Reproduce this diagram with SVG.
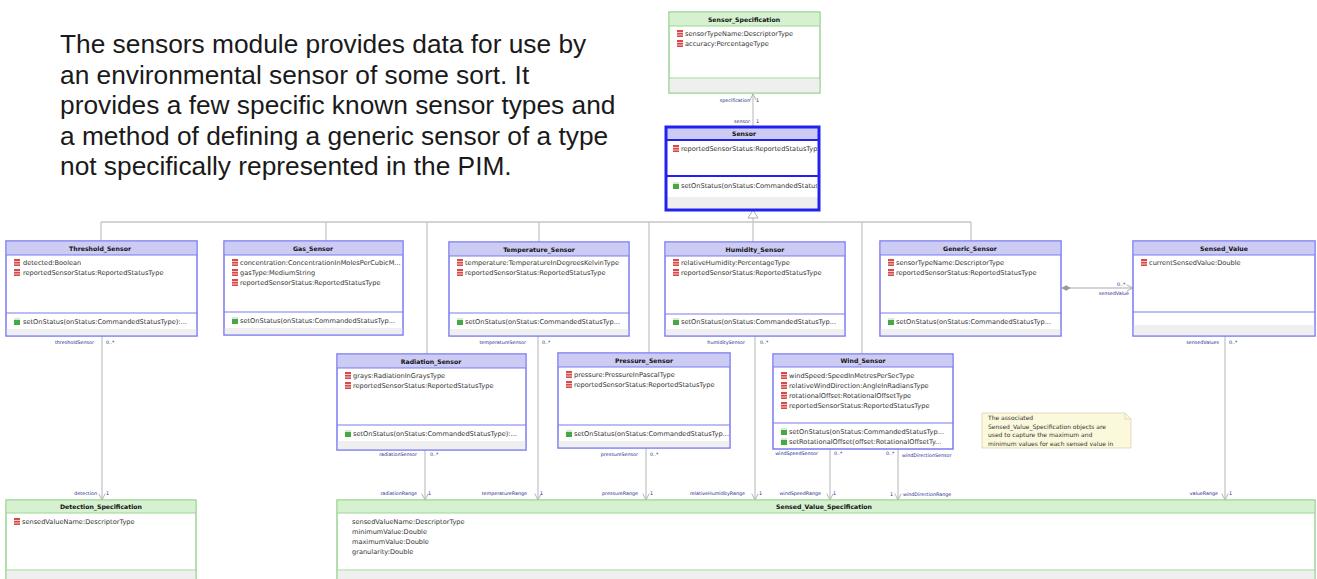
<svg xmlns="http://www.w3.org/2000/svg" width="1317" height="579" viewBox="0 0 1317 579">
<style>
  .intro{font-family:"Liberation Sans",Arial,sans-serif;font-size:26.3px;fill:#1a1a1a}
  .cls{fill:#fff;stroke:#7b7bf2;stroke-width:1.5}
  .clsh{fill:#cbcbf3}
  .spec{fill:#fff;stroke:#9bd594;stroke-width:1.5}
  .spech{fill:#d6f1d0}
  .grey{fill:#efefef}
  .sep{stroke:#7b7bf2;stroke-width:1.2}
  .seps{stroke:#9bd594;stroke-width:1.2}
  .ttl{font-family:"DejaVu Sans",Verdana,sans-serif;font-size:6.2px;font-weight:bold;fill:#111;text-anchor:middle}
  .mem{font-family:"DejaVu Sans",Verdana,sans-serif;font-size:6.6px;fill:#333}
  .role{font-family:"DejaVu Sans",Verdana,sans-serif;font-size:4.8px;fill:#1e2a8c}
  .end{text-anchor:end}
  .ln{stroke:#c6c6c6;stroke-width:1.3;fill:none}
  .note{fill:#fbf8dc;stroke:#d8d4b0;stroke-width:0.8}
  .notet{font-family:"DejaVu Sans",Verdana,sans-serif;font-size:6px;fill:#333}
</style>
<defs>
  <g id="ia"><rect width="6" height="7" fill="#d84a4a"/><rect y="2" width="6" height="1" fill="#f4c4c4"/><rect y="4.5" width="6" height="1" fill="#f4c4c4"/></g>
  <g id="io"><rect width="6" height="7" fill="#46a846"/><rect width="6" height="2" fill="#d3ecd3"/></g>
  <marker id="open" viewBox="0 0 10 10" refX="9" refY="5" markerWidth="8" markerHeight="8" orient="auto" markerUnits="userSpaceOnUse">
    <path d="M1,1 L9,5 L1,9" fill="none" stroke="#b0b0b0" stroke-width="1.2"/>
  </marker>
  <marker id="dia" viewBox="0 0 12 8" refX="1" refY="4" markerWidth="10" markerHeight="7" orient="auto" markerUnits="userSpaceOnUse">
    <path d="M1,4 L6,1 L11,4 L6,7 Z" fill="#9a9a9a" stroke="#9a9a9a" stroke-width="0.6"/>
  </marker>
  <clipPath id="sensorClip"><rect x="667" y="128" width="150" height="81"/></clipPath>
</defs>

<!-- introductory paragraph -->
<g id="intro">
  <text class="intro" x="60" y="53">The sensors module provides data for use by</text>
  <text class="intro" x="60" y="83.5">an environmental sensor of some sort. It</text>
  <text class="intro" x="60" y="114">provides a few specific known sensor types and</text>
  <text class="intro" x="60" y="144.5">a method of defining a generic sensor of a type</text>
  <text class="intro" x="60" y="175">not specifically represented in the PIM.</text>
</g>

<!-- connectors -->
<g id="connectors">
  <!-- generalisation tree -->
  <path class="ln" d="M753,218 V242"/>
  <path class="ln" d="M101,222 H971"/>
  <path class="ln" d="M101,222 V241 M326,222 V241 M427,222 V354 M539,222 V242 M649,222 V353 M862,222 V354 M971,222 V241"/>
  <path d="M753,210 L748,218 L758,218 Z" fill="#fff" stroke="#b0b0b0" stroke-width="1"/>
  <!-- Sensor to Sensor_Specification -->
  <path class="ln" d="M753,127 V94" marker-end="url(#open)"/>
  <!-- associations to specifications -->
  <path class="ln" d="M102,336 V500" marker-end="url(#open)"/>
  <path class="ln" d="M425,450 V500" marker-end="url(#open)"/>
  <path class="ln" d="M538,336 V500" marker-end="url(#open)"/>
  <path class="ln" d="M646,448 V500" marker-end="url(#open)"/>
  <path class="ln" d="M755,336 V500" marker-end="url(#open)"/>
  <path class="ln" d="M830,449 V500" marker-end="url(#open)"/>
  <path class="ln" d="M898,449 V500" marker-end="url(#open)"/>
  <path class="ln" d="M1225,336 V500" marker-end="url(#open)"/>
  <!-- Generic_Sensor aggregates Sensed_Value -->
  <path class="ln" d="M1062,288 H1133" marker-start="url(#dia)" marker-end="url(#open)"/>

  <!-- role names and multiplicities -->
  <text class="role end" x="750" y="102">specification</text><text class="role" x="756" y="102">1</text>
  <text class="role end" x="750" y="123">sensor</text><text class="role" x="756" y="123">1</text>

  <text class="role end" x="94" y="344">thresholdSensor</text><text class="role" x="106" y="344">0..*</text>
  <text class="role end" x="526" y="344">temperatureSensor</text><text class="role" x="542" y="344">0..*</text>
  <text class="role end" x="745" y="344">humiditySensor</text><text class="role" x="760" y="344">0..*</text>
  <text class="role end" x="1219" y="344">sensedValues</text><text class="role" x="1229" y="344">0..*</text>

  <text class="role" x="1117" y="286">0..*</text>
  <text class="role end" x="1129" y="295">sensedValue</text>

  <text class="role end" x="417" y="456">radiationSensor</text><text class="role" x="430" y="456">0..*</text>
  <text class="role end" x="638" y="456">pressureSensor</text><text class="role" x="650" y="456">0..*</text>
  <text class="role end" x="818" y="455">windSpeedSensor</text><text class="role" x="834" y="455">0..*</text>
  <text class="role" x="886" y="455">0..*</text><text class="role" x="902" y="457">windDirectionSensor</text>

  <text class="role end" x="97" y="495">detection</text><text class="role" x="106" y="495">1</text>
  <text class="role end" x="417" y="495">radiationRange</text><text class="role" x="428" y="495">1</text>
  <text class="role end" x="527" y="495">temperatureRange</text><text class="role" x="540" y="495">1</text>
  <text class="role end" x="638" y="495">pressureRange</text><text class="role" x="650" y="495">1</text>
  <text class="role end" x="745" y="495">relativeHumidityRange</text><text class="role" x="759" y="495">1</text>
  <text class="role end" x="821" y="495">windSpeedRange</text><text class="role" x="833" y="495">1</text>
  <text class="role end" x="893" y="496">1</text><text class="role" x="903" y="496">windDirectionRange</text>
  <text class="role end" x="1218" y="495">valueRange</text><text class="role" x="1229" y="495">1</text>
</g>

<!-- Sensor_Specification -->
<g id="sensor-specification">
  <rect class="spec" x="669" y="12" width="151" height="81"/>
  <rect class="spech" x="669.8" y="12.8" width="149.4" height="13.2"/>
  <line class="seps" x1="669" y1="26" x2="820" y2="26"/>
  <rect class="grey" x="669.8" y="79" width="149.4" height="13.2"/>
  <line class="seps" x1="669" y1="78" x2="820" y2="78"/>
  <text class="ttl" x="744" y="22">Sensor_Specification</text>
  <use href="#ia" x="677" y="30"/><text class="mem" x="685" y="36">sensorTypeName:DescriptorType</text>
  <use href="#ia" x="677" y="40"/><text class="mem" x="685" y="46">accuracy:PercentageType</text>
</g>

<!-- Sensor (abstract parent, highlighted) -->
<g id="sensor">
  <rect x="666" y="127" width="153" height="83" fill="#fff"/>
  <rect class="clsh" x="666" y="127" width="153" height="13"/>
  <rect class="grey" x="666" y="197" width="153" height="12"/>
  <line x1="666" y1="140" x2="819" y2="140" stroke="#2222ee" stroke-width="2"/>
  <line x1="666" y1="176" x2="819" y2="176" stroke="#2222ee" stroke-width="2"/>
  <text class="ttl" x="744" y="136">Sensor</text>
  <g clip-path="url(#sensorClip)">
    <use href="#ia" x="673" y="145"/><text class="mem" x="681" y="151">reportedSensorStatus:ReportedStatusType</text>
    <use href="#io" x="673" y="182"/><text class="mem" x="681" y="188">setOnStatus(onStatus:CommandedStatusTyp...</text>
  </g>
  <rect x="666" y="127" width="153" height="83" fill="none" stroke="#2222ee" stroke-width="3"/>
</g>

<!-- Threshold_Sensor -->
<g id="threshold-sensor">
  <rect class="cls" x="6" y="241" width="191" height="95"/>
  <rect class="clsh" x="6.8" y="241.8" width="189.4" height="13.2"/>
  <line class="sep" x1="6" y1="255" x2="197" y2="255"/>
  <line class="sep" x1="6" y1="313" x2="197" y2="313"/>
  <rect class="grey" x="6.8" y="329" width="189.4" height="6.2"/>
  <text class="ttl" x="100" y="251">Threshold_Sensor</text>
  <use href="#ia" x="14" y="259"/><text class="mem" x="23" y="265">detected:Boolean</text>
  <use href="#ia" x="14" y="269"/><text class="mem" x="23" y="275">reportedSensorStatus:ReportedStatusType</text>
  <use href="#io" x="14" y="318"/><text class="mem" x="23" y="324">setOnStatus(onStatus:CommandedStatusType):...</text>
</g>

<!-- Gas_Sensor -->
<g id="gas-sensor">
  <rect class="cls" x="224" y="241" width="179" height="94"/>
  <rect class="clsh" x="224.8" y="241.8" width="177.4" height="13.2"/>
  <line class="sep" x1="224" y1="255" x2="403" y2="255"/>
  <line class="sep" x1="224" y1="312" x2="403" y2="312"/>
  <rect class="grey" x="224.8" y="328" width="177.4" height="6.2"/>
  <text class="ttl" x="313" y="251">Gas_Sensor</text>
  <use href="#ia" x="232" y="259"/><text class="mem" x="240" y="265">concentration:ConcentrationInMolesPerCubicM...</text>
  <use href="#ia" x="232" y="269"/><text class="mem" x="240" y="275">gasType:MediumString</text>
  <use href="#ia" x="232" y="279"/><text class="mem" x="240" y="285">reportedSensorStatus:ReportedStatusType</text>
  <use href="#io" x="232" y="317"/><text class="mem" x="240" y="323">setOnStatus(onStatus:CommandedStatusTyp...</text>
</g>

<!-- Temperature_Sensor -->
<g id="temperature-sensor">
  <rect class="cls" x="449" y="242" width="180" height="94"/>
  <rect class="clsh" x="449.8" y="242.8" width="178.4" height="13.2"/>
  <line class="sep" x1="449" y1="256" x2="629" y2="256"/>
  <line class="sep" x1="449" y1="313" x2="629" y2="313"/>
  <rect class="grey" x="449.8" y="329" width="178.4" height="6.2"/>
  <text class="ttl" x="539" y="252">Temperature_Sensor</text>
  <use href="#ia" x="457" y="259"/><text class="mem" x="465" y="265">temperature:TemperatureInDegreesKelvinType</text>
  <use href="#ia" x="457" y="269"/><text class="mem" x="465" y="275">reportedSensorStatus:ReportedStatusType</text>
  <use href="#io" x="457" y="318"/><text class="mem" x="465" y="324">setOnStatus(onStatus:CommandedStatusTyp...</text>
</g>

<!-- Humidity_Sensor -->
<g id="humidity-sensor">
  <rect class="cls" x="665" y="242" width="180" height="94"/>
  <rect class="clsh" x="665.8" y="242.8" width="178.4" height="13.2"/>
  <line class="sep" x1="665" y1="256" x2="845" y2="256"/>
  <line class="sep" x1="665" y1="314" x2="845" y2="314"/>
  <rect class="grey" x="665.8" y="329" width="178.4" height="6.2"/>
  <text class="ttl" x="755" y="252">Humidity_Sensor</text>
  <use href="#ia" x="673" y="259"/><text class="mem" x="681" y="265">relativeHumidity:PercentageType</text>
  <use href="#ia" x="673" y="269"/><text class="mem" x="681" y="275">reportedSensorStatus:ReportedStatusType</text>
  <use href="#io" x="673" y="318"/><text class="mem" x="681" y="324">setOnStatus(onStatus:CommandedStatusTyp...</text>
</g>

<!-- Generic_Sensor -->
<g id="generic-sensor">
  <rect class="cls" x="880" y="241" width="181" height="95"/>
  <rect class="clsh" x="880.8" y="241.8" width="179.4" height="13.2"/>
  <line class="sep" x1="880" y1="255" x2="1061" y2="255"/>
  <line class="sep" x1="880" y1="313" x2="1061" y2="313"/>
  <rect class="grey" x="880.8" y="329" width="179.4" height="6.2"/>
  <text class="ttl" x="970" y="251">Generic_Sensor</text>
  <use href="#ia" x="888" y="259"/><text class="mem" x="896" y="265">sensorTypeName:DescriptorType</text>
  <use href="#ia" x="888" y="269"/><text class="mem" x="896" y="275">reportedSensorStatus:ReportedStatusType</text>
  <use href="#io" x="888" y="318"/><text class="mem" x="896" y="324">setOnStatus(onStatus:CommandedStatusTyp...</text>
</g>

<!-- Sensed_Value -->
<g id="sensed-value">
  <rect class="cls" x="1133" y="241" width="182" height="95"/>
  <rect class="clsh" x="1133.8" y="241.8" width="180.4" height="13.2"/>
  <line class="sep" x1="1133" y1="255" x2="1315" y2="255"/>
  <line class="sep" x1="1133" y1="312" x2="1315" y2="312"/>
  <rect class="grey" x="1133.8" y="325" width="180.4" height="10.2"/>
  <text class="ttl" x="1224" y="251">Sensed_Value</text>
  <use href="#ia" x="1141" y="259"/><text class="mem" x="1149" y="265">currentSensedValue:Double</text>
</g>

<!-- Radiation_Sensor -->
<g id="radiation-sensor">
  <rect class="cls" x="337" y="354" width="189" height="96"/>
  <rect class="clsh" x="337.8" y="354.8" width="187.4" height="13.2"/>
  <line class="sep" x1="337" y1="368" x2="526" y2="368"/>
  <line class="sep" x1="337" y1="425" x2="526" y2="425"/>
  <rect class="grey" x="337.8" y="441" width="187.4" height="8.2"/>
  <text class="ttl" x="431" y="364">Radiation_Sensor</text>
  <use href="#ia" x="345" y="372"/><text class="mem" x="353" y="378">grays:RadiationInGraysType</text>
  <use href="#ia" x="345" y="382"/><text class="mem" x="353" y="388">reportedSensorStatus:ReportedStatusType</text>
  <use href="#io" x="345" y="430"/><text class="mem" x="353" y="436">setOnStatus(onStatus:CommandedStatusType):...</text>
</g>

<!-- Pressure_Sensor -->
<g id="pressure-sensor">
  <rect class="cls" x="558" y="353" width="172" height="95"/>
  <rect class="clsh" x="558.8" y="353.8" width="170.4" height="13.2"/>
  <line class="sep" x1="558" y1="367" x2="730" y2="367"/>
  <line class="sep" x1="558" y1="425" x2="730" y2="425"/>
  <rect class="grey" x="558.8" y="441" width="170.4" height="6.2"/>
  <text class="ttl" x="644" y="363">Pressure_Sensor</text>
  <use href="#ia" x="566" y="371"/><text class="mem" x="574" y="377">pressure:PressureInPascalType</text>
  <use href="#ia" x="566" y="381"/><text class="mem" x="574" y="387">reportedSensorStatus:ReportedStatusType</text>
  <use href="#io" x="566" y="430"/><text class="mem" x="574" y="436">setOnStatus(onStatus:CommandedStatusTyp...</text>
</g>

<!-- Wind_Sensor -->
<g id="wind-sensor">
  <rect class="cls" x="773" y="354" width="180" height="95"/>
  <rect class="clsh" x="773.8" y="354.8" width="178.4" height="12.2"/>
  <line class="sep" x1="773" y1="367" x2="953" y2="367"/>
  <line class="sep" x1="773" y1="423" x2="953" y2="423"/>
  <text class="ttl" x="863" y="363">Wind_Sensor</text>
  <use href="#ia" x="781" y="372"/><text class="mem" x="789" y="378">windSpeed:SpeedInMetresPerSecType</text>
  <use href="#ia" x="781" y="382"/><text class="mem" x="789" y="388">relativeWindDirection:AngleInRadiansType</text>
  <use href="#ia" x="781" y="392"/><text class="mem" x="789" y="398">rotationalOffset:RotationalOffsetType</text>
  <use href="#ia" x="781" y="402"/><text class="mem" x="789" y="408">reportedSensorStatus:ReportedStatusType</text>
  <use href="#io" x="781" y="428"/><text class="mem" x="789" y="434">setOnStatus(onStatus:CommandedStatusTyp...</text>
  <use href="#io" x="781" y="438"/><text class="mem" x="789" y="444">setRotationalOffset(offset:RotationalOffsetTy...</text>
</g>

<!-- explanatory note -->
<g id="note">
  <path class="note" d="M982,413 H1125 L1131,419 V448 H982 Z"/>
  <path d="M1125,413 V419 H1131" fill="none" stroke="#d8d4b0" stroke-width="0.8"/>
  <text class="notet" x="988" y="420">The associated</text>
  <text class="notet" x="988" y="428.5">Sensed_Value_Specification objects are</text>
  <text class="notet" x="988" y="437">used to capture the maximum and</text>
  <text class="notet" x="988" y="445.5">minimum values for each sensed value in</text>
</g>

<!-- Detection_Specification -->
<g id="detection-specification">
  <rect class="spec" x="6" y="500" width="190" height="85"/>
  <rect class="spech" x="6.8" y="500.8" width="188.4" height="12.2"/>
  <line class="seps" x1="6" y1="513" x2="196" y2="513"/>
  <rect class="grey" x="6.8" y="571" width="188.4" height="10"/>
  <line class="seps" x1="6" y1="570" x2="196" y2="570"/>
  <text class="ttl" x="101" y="509">Detection_Specification</text>
  <use href="#ia" x="14" y="518"/><text class="mem" x="22" y="524">sensedValueName:DescriptorType</text>
</g>

<!-- Sensed_Value_Specification -->
<g id="sensed-value-specification">
  <rect class="spec" x="337" y="500" width="978" height="85"/>
  <rect class="spech" x="337.8" y="500.8" width="976.4" height="12.2"/>
  <line class="seps" x1="337" y1="513" x2="1315" y2="513"/>
  <rect class="grey" x="337.8" y="571" width="976.4" height="10"/>
  <line class="seps" x1="337" y1="570" x2="1315" y2="570"/>
  <text class="ttl" x="824" y="509">Sensed_Value_Specification</text>
  <text class="mem" x="352" y="524">sensedValueName:DescriptorType</text>
  <text class="mem" x="352" y="534">minimumValue:Double</text>
  <text class="mem" x="352" y="544">maximumValue:Double</text>
  <text class="mem" x="352" y="554">granularity:Double</text>
</g>
</svg>
